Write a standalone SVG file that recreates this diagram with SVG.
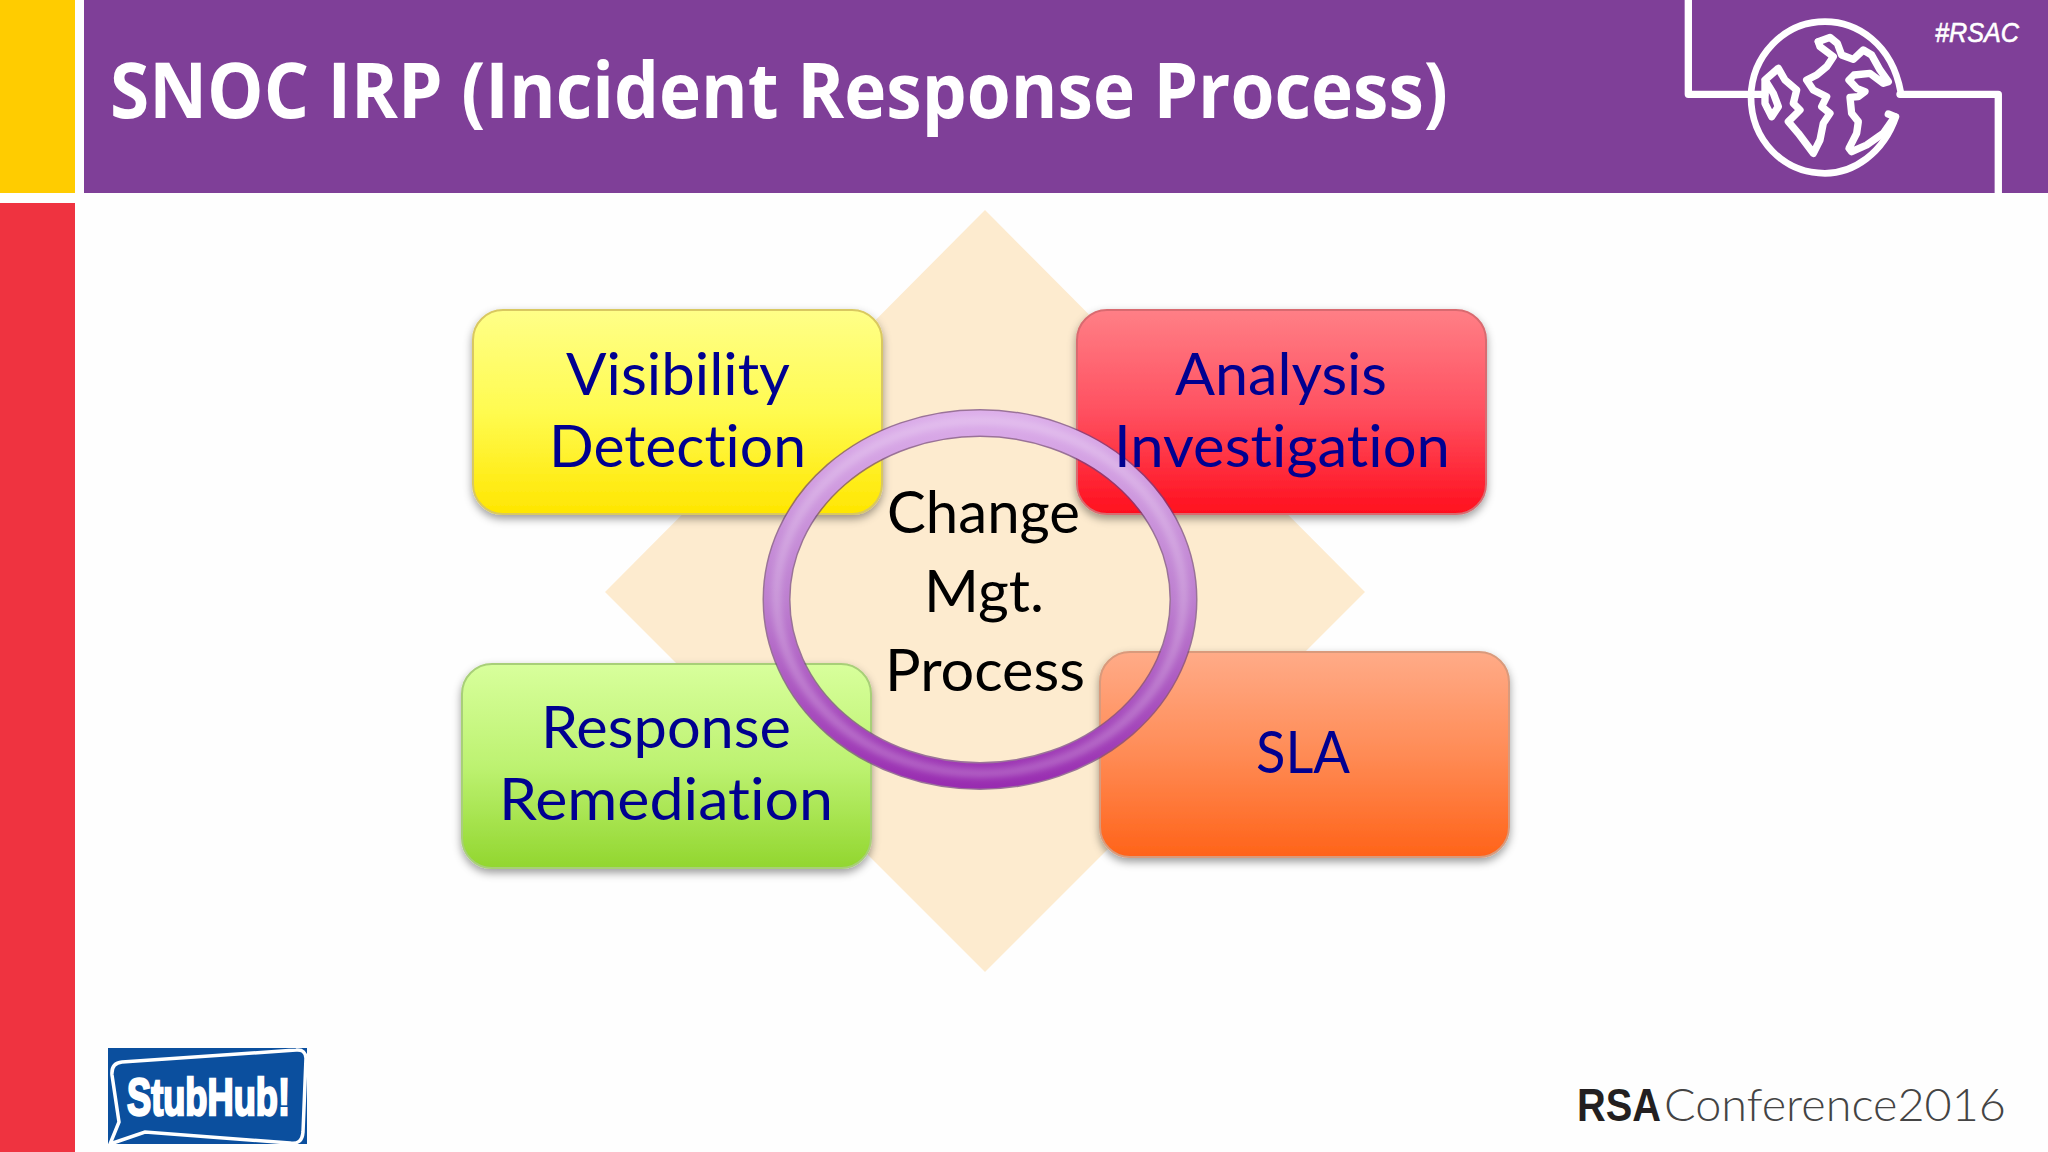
<svg xmlns="http://www.w3.org/2000/svg" width="2048" height="1152" viewBox="0 0 2048 1152">
<style>
text{font-variant-ligatures:none}
.w{font-family:"Lato","Liberation Sans",sans-serif;font-size:59px;fill:#000090}
.c{font-family:"Lato","Liberation Sans",sans-serif;font-size:59px;fill:#000}
.b{stroke-width:2;filter:url(#sh)}
.ol{fill:none;stroke:#fff;stroke-linejoin:round;stroke-linecap:round}
</style>
<defs>
<filter id="sh" x="-10%" y="-10%" width="120%" height="125%"><feDropShadow dx="0" dy="4" stdDeviation="4" flood-color="#000" flood-opacity=".38"/></filter>
<filter id="bl" x="-10%" y="-10%" width="120%" height="120%"><feGaussianBlur stdDeviation="3"/></filter>
<linearGradient id="gy" x1="0" y1="0" x2="0" y2="1"><stop offset="0" stop-color="#ffff88"/><stop offset=".5" stop-color="#fffb50"/><stop offset="1" stop-color="#ffe600"/></linearGradient>
<linearGradient id="gr" x1="0" y1="0" x2="0" y2="1"><stop offset="0" stop-color="#ff7f86"/><stop offset=".5" stop-color="#ff5060"/><stop offset="1" stop-color="#ff0f1e"/></linearGradient>
<linearGradient id="gg" x1="0" y1="0" x2="0" y2="1"><stop offset="0" stop-color="#d8ff9c"/><stop offset=".5" stop-color="#bdf271"/><stop offset="1" stop-color="#92d62f"/></linearGradient>
<linearGradient id="go" x1="0" y1="0" x2="0" y2="1"><stop offset="0" stop-color="#ffab88"/><stop offset=".5" stop-color="#ff8b55"/><stop offset="1" stop-color="#ff6319"/></linearGradient>
<linearGradient id="gp" gradientUnits="userSpaceOnUse" x1="0" y1="410" x2="0" y2="789"><stop offset="0" stop-color="#dcaeea"/><stop offset=".5" stop-color="#bd7fd0"/><stop offset="1" stop-color="#982bb0"/></linearGradient>
</defs>
<rect width="2048" height="1152" fill="#fefefe"/>
<g id="frame">
<rect x="0" y="0" width="75" height="193" fill="#ffcc00"/>
<rect x="0" y="203" width="75" height="949" fill="#ef3340"/>
<rect x="84" y="0" width="1964" height="193" fill="#7f3f98"/>
<text x="110" y="118" font-family="'Open Sans','Noto Sans',sans-serif" font-weight="700" font-size="77" fill="#fff" textLength="1338" lengthAdjust="spacingAndGlyphs">SNOC IRP (Incident Response Process)</text>
<text x="1935" y="42" font-family="'Liberation Sans',sans-serif" font-style="italic" font-weight="400" stroke="#fff" stroke-width=".6" font-size="27" fill="#fff" textLength="84" lengthAdjust="spacingAndGlyphs">#RSAC</text>
</g>
<g id="globe" transform="translate(1650 0) scale(.3333)">
<path class="ol" stroke-width="22" d="M115,0V283H345M750,283H1045V580"/>
<path class="ol" stroke-width="20" d="M752,275C725,130 620,65 525,65C400,65 305,170 303,290C303,420 400,520 525,520C610,520 700,460 738,350"/>
<polyline class="ol" stroke-width="22" points="505,125 540,112 562,130 575,165 610,178 640,150 665,165 690,210 715,245 700,250 660,220 612,225 597,240 620,265 645,275 625,290 600,292 605,340 625,365 620,400 597,445 605,455 650,435 700,400 735,350 715,342"/>
<polyline class="ol" stroke-width="22" points="505,125 510,140 550,170 530,200 500,225 470,240 490,270 530,290 515,320 540,340 520,370 510,420 490,460 445,400 415,365 450,330 430,310 440,270 405,240 385,205 345,240 345,310 365,350 385,320 370,280 345,240"/>
</g>
<g id="diamond"><polygon points="985,210 1365,592 985,972 605,592" fill="#fdebcf"/></g>
<g id="node-visibility"><rect class="b" x="473" y="310" width="409" height="204" rx="30" fill="url(#gy)" stroke="#d9c860"/></g>
<g id="node-analysis"><rect class="b" x="1077" y="310" width="409" height="204" rx="30" fill="url(#gr)" stroke="#d96b70"/></g>
<g id="node-response"><rect class="b" x="462" y="664" width="409" height="204" rx="30" fill="url(#gg)" stroke="#a8cf78"/></g>
<g id="node-sla"><rect class="b" x="1100" y="652" width="409" height="205" rx="30" fill="url(#go)" stroke="#d99a7c"/></g>
<g id="node-change">
<ellipse cx="980" cy="599.5" rx="203.5" ry="176.500" fill="none" stroke="#6f3f80" stroke-opacity=".7" stroke-width="28"/>
<ellipse cx="980" cy="599.5" rx="203.5" ry="176.500" fill="none" stroke="url(#gp)" stroke-width="25"/>
<ellipse cx="980" cy="597" rx="203.5" ry="176.500" fill="none" stroke="#fff" stroke-opacity=".22" stroke-width="9" filter="url(#bl)"/>
</g>
<g id="labels">
<text class="w" x="566" y="394.500" textLength="224" lengthAdjust="spacingAndGlyphs">Visibility</text>
<text class="w" x="549" y="467" textLength="257" lengthAdjust="spacingAndGlyphs">Detection</text>
<text class="w" x="1175" y="394.500" textLength="212" lengthAdjust="spacingAndGlyphs">Analysis</text>
<text class="w" x="1114" y="467" textLength="336" lengthAdjust="spacingAndGlyphs">Investigation</text>
<text class="w" x="541" y="748" textLength="250" lengthAdjust="spacingAndGlyphs">Response</text>
<text class="w" x="499" y="820" textLength="334" lengthAdjust="spacingAndGlyphs">Remediation</text>
<text class="w" x="1256" y="773" textLength="94" lengthAdjust="spacingAndGlyphs">SLA</text>
<text class="c" x="887" y="533" textLength="193" lengthAdjust="spacingAndGlyphs">Change</text>
<text class="c" x="924" y="612" textLength="120" lengthAdjust="spacingAndGlyphs">Mgt.</text>
<text class="c" x="885" y="691" textLength="200" lengthAdjust="spacingAndGlyphs">Process</text>
</g>
<g id="stubhub">
<rect x="108" y="1048" width="199" height="96" fill="#0b4f9e"/>
<path d="M122,1062L296,1050Q305,1049 306,1058L303,1132Q302,1145 290,1143L145,1132L110,1144L119,1122L112,1075Q111,1063 122,1062Z" fill="none" stroke="#fff" stroke-width="3.5"/>
<text x="127" y="1115" font-family="'Liberation Sans',sans-serif" font-weight="700" font-size="52" fill="#fff" stroke="#fff" stroke-width="2.5" textLength="163" lengthAdjust="spacingAndGlyphs">StubHub!</text>
</g>
<g id="rsa">
<text font-size="46" y="1121" fill="#444" font-family="Lato,'Liberation Sans',sans-serif"><tspan x="1577" font-family="'Liberation Sans',sans-serif" font-weight="700" fill="#231f20" textLength="84" lengthAdjust="spacingAndGlyphs">RSA</tspan><tspan x="1664" font-weight="300" textLength="342" lengthAdjust="spacingAndGlyphs">Conference2016</tspan></text>
</g>
</svg>
